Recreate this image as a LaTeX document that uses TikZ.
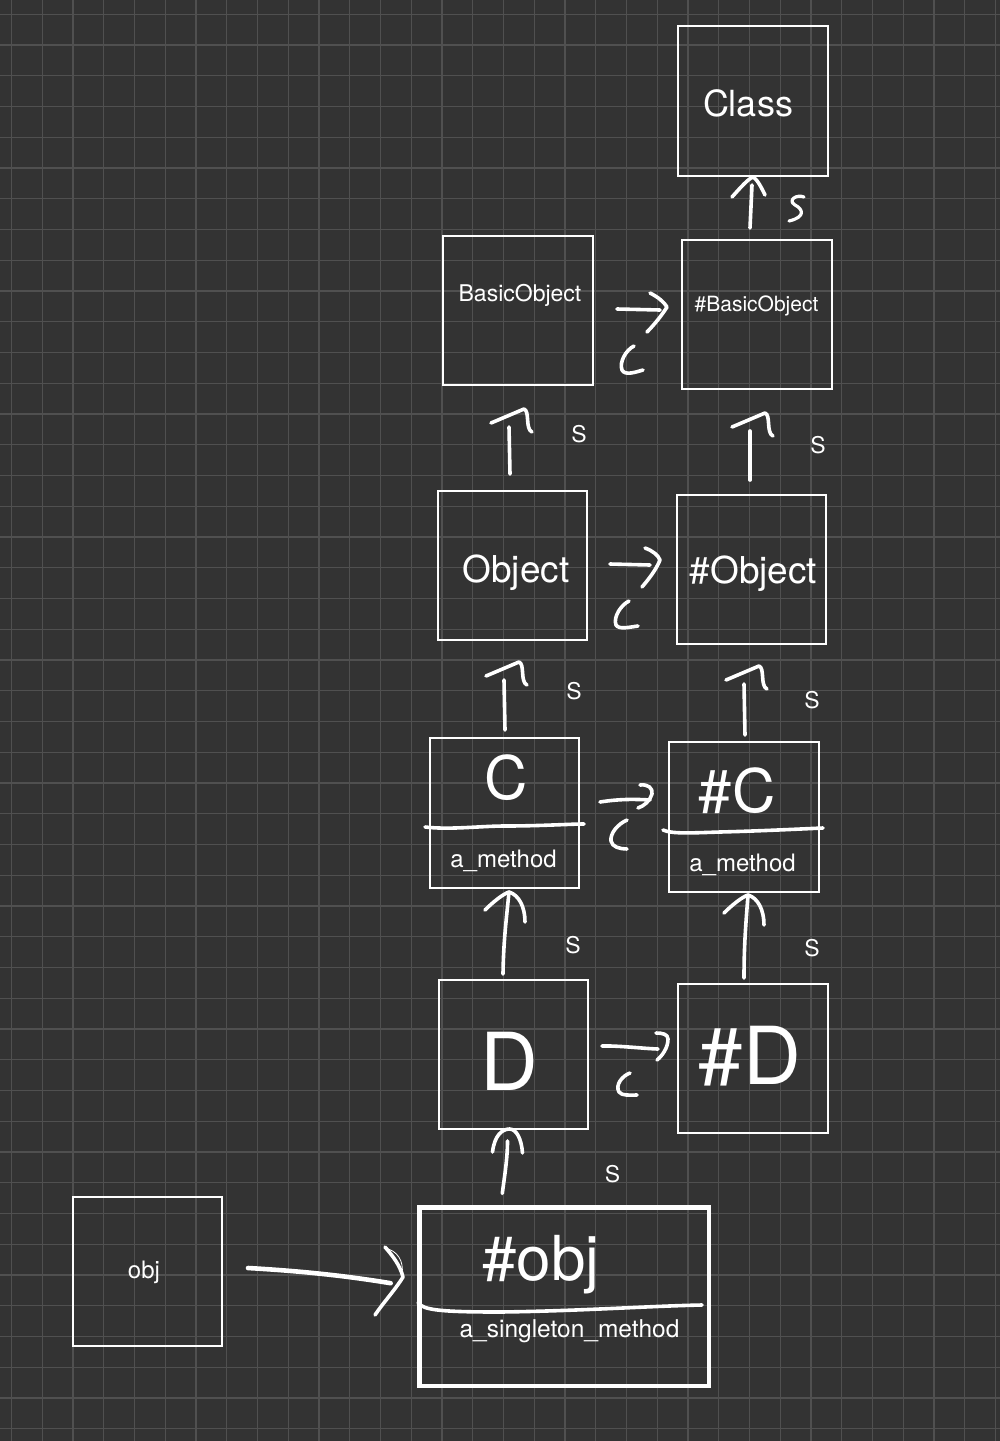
\documentclass[tikz,border=0pt]{standalone}
\usepackage{fontspec}
\setmainfont{TeX Gyre Heros}
\usetikzlibrary{calc}
\definecolor{bg}{HTML}{333333}
\definecolor{gridc}{HTML}{505050}
\newcommand{\myfs}[1]{\fontsize{#1}{#1}\selectfont}
\tikzset{
  box/.style={draw=white, line width=1.4pt, inner sep=0pt, outer sep=0pt, minimum width=150, minimum height=150},
  hand/.style={draw=white, line width=3.6pt, line cap=round, line join=round},
  txt/.style={text=white, inner sep=0pt, outer sep=0pt, anchor=base},
  slab/.style={text=white, inner sep=0pt, font=\myfs{23}},
  pics/uphead/.style={code={\draw[hand] (-18,-4) -- (15,-18) .. controls (21,-16) and (16,2) .. (23,5);}},
  pics/uparr/.style={code={\draw[hand] (-24,18) .. controls (-16,10) and (-6,2) .. (0,0) .. controls (10,3) and (16,15) .. (16,30);}},
}
\begin{document}
\begin{tikzpicture}[x=1pt,y=-1pt]
\fill[bg] (0,0) rectangle (1000,1441);
\useasboundingbox (0,0) rectangle (1000,1441);
\foreach \i in {0,...,32} \draw[gridc, line width=1.2pt] ({11.5+\i*30.75},0) -- ({11.5+\i*30.75},1441);
\foreach \j in {0,...,46} \draw[gridc, line width=1.2pt] (0,{14.3+\j*30.75}) -- (1000,{14.3+\j*30.75});

% boxes
\node[box] (Cls) at (753,101) {};
\node[box, minimum height=149] (BO) at (518,310.5) {};
\node[box, minimum height=149] (hBO) at (757,314.5) {};
\node[box, minimum width=149, minimum height=149] (Obj) at (512.5,565.5) {};
\node[box, minimum width=149, minimum height=149] (hObj) at (751.5,569.5) {};
\node[box, minimum width=149] (C) at (504.5,813) {};
\node[box] (hC) at (744,817) {};
\node[box, minimum width=149, minimum height=149] (D) at (513.5,1054.5) {};
\node[box, minimum height=149] (hD) at (753,1058.5) {};
\node[box, minimum width=149, minimum height=149] (obj) at (147.5,1271.5) {};
\node[box, line width=4.7pt, minimum width=289.3, minimum height=178.5] (hobj) at (564.3,1296.7) {};

% texts
\node[txt, font=\myfs{36}] (tCls) at (748,116.5) {Class};
\node[txt, font=\myfs{23}] (tBO) at (520,301) {BasicObject};
\node[txt, font=\myfs{21}] (thBO) at (756.5,311.5) {\#BasicObject};
\node[txt, font=\myfs{37}] (tObj) at (516,582) {Object};
\node[txt, font=\myfs{37}] (thObj) at (753.5,583) {\#Object};
\node[txt, font=\myfs{60}] (tC) at (506,799) {C};
\node[txt, font=\myfs{60}] (thC) at (737,812) {\#C};
\node[txt, font=\myfs{24}] (tCm) at (503.5,867) {a\_method};
\node[txt, font=\myfs{24}] (thCm) at (742.5,871) {a\_method};
\node[txt, font=\myfs{80}] (tD) at (509,1090) {D};
\node[txt, font=\myfs{80}] (thD) at (750,1084) {\#D};
\node[txt, font=\myfs{24}] (tobj) at (144,1278) {obj};
\node[txt, font=\myfs{62}] (thobj) at (541,1280) {\#obj};
\node[txt, font=\myfs{24.5}] (thobjm) at (569.5,1337) {a\_singleton\_method};

% dividers
\draw[hand] (425,827) .. controls (450,830) and (480,826) .. (505,826) .. controls (540,826) and (570,824) .. (584,824);
\draw[hand] (663,830) .. controls (672,834) and (690,833) .. (720,832) .. controls (760,831) and (800,829) .. (823,828);
\draw[hand] (418,1303) .. controls (424,1310) and (440,1312) .. (500,1312) .. controls (580,1311) and (650,1306) .. (702,1305);

% s labels
\node[slab] (s2) at (579,434.5) {S};
\node[slab] (s3) at (818,445) {S};
\node[slab] (s4) at (574,691) {S};
\node[slab] (s5) at (812,700) {S};
\node[slab] (s6) at (573,945) {S};
\node[slab] (s7) at (812,948) {S};
\node[slab] (s8) at (612.5,1174) {S};

% arrow 1: #BasicObject -> Class
\draw[hand] ($(hBO.north)+(-7,-12)$) -- ($(Cls.south)+(-1,9)$);
\draw[hand] ($(Cls.south)+(-21,21)$) .. controls ($(Cls.south)+(-12,11)$) and ($(Cls.south)+(-5,3)$) .. ($(Cls.south)+(0,1)$) .. controls ($(Cls.south)+(5,4)$) and ($(Cls.south)+(9,13)$) .. ($(Cls.south)+(12,19)$);
\draw[hand, line width=3.2pt] (804,197) .. controls (797,194) and (787,200) .. (795,205) .. controls (803,209) and (806,217) .. (789,221);

% arrow 2: Object -> BasicObject
\draw[hand] ($(Obj.north)+(-2.5,-17)$) -- ($(BO.south)+(-9,42)$);
\pic at ($(BO.south)+(-9,42)$) {uphead};
% arrow 3: #Object -> #BasicObject
\draw[hand] ($(hObj.north)+(-1.5,-15)$) -- ($(hBO.south)+(-7,42)$);
\pic at ($(hBO.south)+(-7,42)$) {uphead};
% arrow 4: C -> Object
\draw[hand] ($(C.north)+(0.5,-8)$) -- ($(Obj.south)+(-8.5,40)$);
\pic at ($(Obj.south)+(-8.5,40)$) {uphead};
% arrow 5: #C -> #Object
\draw[hand] ($(hC.north)+(1,-7)$) -- ($(hObj.south)+(-7.5,40)$);
\pic at ($(hObj.south)+(-7.5,40)$) {uphead};
% arrow 6: D -> C
\draw[hand] ($(D.north)+(-10.5,-6)$) .. controls ($(D.north)+(-10,-40)$) and ($(C.south)+(2,30)$) .. ($(C.south)+(4.5,4)$);
\pic at ($(C.south)+(4.5,4)$) {uparr};
% arrow 7: #D -> #C
\draw[hand] ($(hD.north)+(-9,-6)$) .. controls ($(hD.north)+(-9,-40)$) and ($(hC.south)+(2,30)$) .. ($(hC.south)+(4,3)$);
\pic at ($(hC.south)+(4,3)$) {uparr};
% arrow 8: #obj -> D
\draw[hand] ($(hobj.north)+(-62,-14)$) .. controls ($(hobj.north)+(-60,-30)$) and ($(D.south)+(-6,30)$) .. ($(D.south)+(-6,12)$);
\draw[hand] ($(D.south)+(-21,23)$) .. controls ($(D.south)+(-19,6)$) and ($(D.south)+(-11,0)$) .. ($(D.south)+(-4,0)$) .. controls ($(D.south)+(3,0)$) and ($(D.south)+(8,10)$) .. ($(D.south)+(9,24)$);

% arrow 9: BasicObject -> #BasicObject
\draw[hand] ($(BO.east)+(24,-1.5)$) -- ($(hBO.west)+(-22,-4.5)$);
\draw[hand] (650,293) .. controls (658,297) and (664,302) .. (667,307) .. controls (662,315) and (654,325) .. (647,332);
\draw[hand] (634,346) .. controls (626,350) and (619,362) .. (622,370) .. controls (625,376) and (636,372) .. (643,370);
% arrow 10: Object -> #Object
\draw[hand] ($(Obj.east)+(23,-1.5)$) -- ($(hObj.west)+(-27,-4.5)$);
\draw[hand] (645,548) .. controls (653,551) and (658,555) .. (660,560) .. controls (656,570) and (648,580) .. (642,587);
\draw[hand] (629,601) .. controls (621,605) and (613,617) .. (616,625) .. controls (619,630) and (630,627) .. (638,626);
% arrow 11: C -> #C
\draw[hand] ($(C.east)+(21,-11)$) .. controls ($(C.east)+(40,-14)$) and ($(hC.west)+(-35,-18)$) .. ($(hC.west)+(-19,-17)$);
\draw[hand] (640,785) .. controls (648,784) and (653,788) .. (652,794) .. controls (650,801) and (644,806) .. (638,808);
\draw[hand] (627,820) .. controls (618,824) and (610,833) .. (611,841) .. controls (612,847) and (620,849) .. (627,849);
% arrow 12: D -> #D
\draw[hand] ($(D.east)+(14,-8.5)$) .. controls ($(D.east)+(30,-9)$) and ($(hD.west)+(-35,-10)$) .. ($(hD.west)+(-20,-9.5)$);
\draw[hand] (656,1033) .. controls (662,1033) and (668,1034) .. (668,1039) .. controls (668,1048) and (662,1056) .. (657,1060);
\draw[hand] (630,1073) .. controls (622,1076) and (615,1085) .. (619,1092) .. controls (622,1096) and (630,1095) .. (637,1095);
% arrow 13: obj -> #obj
\draw[hand, line width=4.6pt] ($(obj.east)+(26,-3.5)$) .. controls ($(obj.east)+(70,-1)$) and ($(hobj.west)+(-80,-22)$) .. ($(hobj.west)+(-29,-13.5)$);
\draw[hand] (385,1247) .. controls (392,1255) and (400,1265) .. (403,1277) .. controls (395,1290) and (383,1303) .. (375,1315);
\draw[white, line width=0.8pt] (384,1248) .. controls (398,1250) and (404,1262) .. (402,1274);
\end{tikzpicture}
\end{document}
